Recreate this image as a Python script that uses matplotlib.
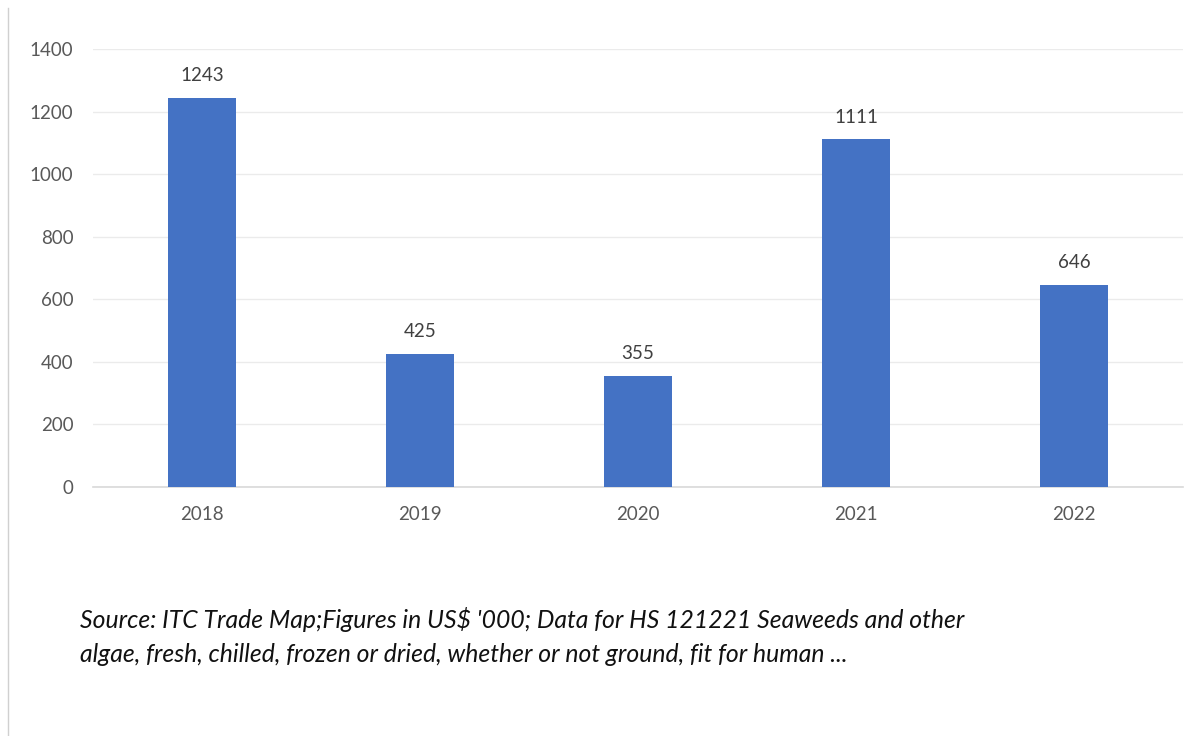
import matplotlib
matplotlib.use("Agg")
import matplotlib.pyplot as plt
from matplotlib.lines import Line2D

years = ["2018", "2019", "2020", "2021", "2022"]
values = [1243, 425, 355, 1111, 646]
yticks = [0, 200, 400, 600, 800, 1000, 1200, 1400]
source_lines = [
    "Source: ITC Trade Map;Figures in US$ '000; Data for HS 121221 Seaweeds and other",
    "algae, fresh, chilled, frozen or dried, whether or not ground, fit for human ...",
]

plt.rcParams['font.family'] = ['Lato', 'DejaVu Sans']

fig = plt.figure(figsize=(12.03, 7.36), dpi=100)
ax = fig.add_axes([93/1203, 1-487/736, (1183-93)/1203, (487-49)/736])

x = list(range(len(years)))
bars = ax.bar(x, values, width=0.31, color="#4472C4", zorder=3)
ax.set_xlim(-0.5, len(years)-0.5)
ax.set_ylim(0, 1400)
ax.set_yticks(yticks)
ax.set_xticks(x)
ax.set_xticklabels(years)
ax.grid(axis='y', color="#EBEBEB", linewidth=1.0, zorder=0)
for s in ['top', 'right', 'left']:
    ax.spines[s].set_visible(False)
ax.spines['bottom'].set_color("#D9D9D9")
ax.spines['bottom'].set_linewidth(1.2)
ax.tick_params(axis='both', length=0, labelsize=13.5, labelcolor="#595959")
ax.tick_params(axis='y', pad=14)
ax.tick_params(axis='x', pad=14)

for xi, v in zip(x, values):
    ax.annotate(str(v), (xi, v), xytext=(0, 10), textcoords='offset points',
                ha='center', va='bottom', fontsize=13.5, color="#404040")

fig.text(80/1203, 1-620/736, source_lines[0], fontsize=17.8, style='italic',
         color="#111111", ha='left', va='center')
fig.text(80/1203, 1-654/736, source_lines[1], fontsize=17.8, style='italic',
         color="#111111", ha='left', va='center')

fig.add_artist(Line2D([8/1203, 8/1203], [0, 1-8/736], transform=fig.transFigure,
                      color="#D0D0D0", linewidth=1.0))

fig.savefig("out.png", dpi=100, facecolor="white")
